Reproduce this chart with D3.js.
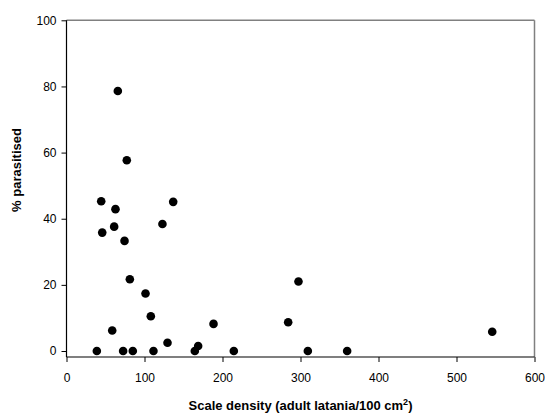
<!DOCTYPE html>
<html>
<head>
<meta charset="utf-8">
<script src="https://cdn.jsdelivr.net/npm/d3@7"></script>
<style>
body{margin:0;background:#fff;}
text{font-family:Arial,"Liberation Sans",sans-serif;}
</style>
</head>
<body>
<svg id="chart" width="545" height="413"></svg>
<script>
const density = [44.5, 62.8, 45.8, 61.1, 74.4, 136.8, 123, 81.2, 101.3, 108.1, 58.6, 38.9, 72.6, 85, 111.5, 129.5, 164.5, 168.8, 188.5, 65.8, 77.3, 214.5, 284.2, 297.4, 309.4, 359.8, 545.8];
const parasitised = [45.3, 42.9, 35.8, 37.6, 33.3, 45.1, 38.4, 21.7, 17.4, 10.5, 6.2, 0, 0, 0, 0, 2.5, 0, 1.5, 8.2, 78.6, 57.7, 0, 8.7, 21.0, 0, 0, 5.8];
const xTicks = [0, 100, 200, 300, 400, 500, 600];
const yTicks = [0, 20, 40, 60, 80, 100];

const svg = d3.select("#chart");
const x = d3.scaleLinear().domain([0, 600]).range([66.5, 534.5]);
const y = d3.scaleLinear().domain([0, 100]).range([351, 20.3]);
const xAxisY = 357;

// frame (top & right, gray)
svg.append("line").attr("x1", 66.5).attr("x2", 534.5).attr("y1", 20.3).attr("y2", 20.3)
  .attr("stroke", "#808080").attr("stroke-width", 1.5);
svg.append("line").attr("x1", 534.5).attr("x2", 534.5).attr("y1", 20.3).attr("y2", xAxisY)
  .attr("stroke", "#808080").attr("stroke-width", 1.5);

// x axis
const gx = svg.append("g").attr("transform", `translate(0,${xAxisY})`)
  .call(d3.axisBottom(x).tickValues(xTicks).tickSize(5).tickSizeOuter(0).tickPadding(11));
// y axis
const gy = svg.append("g").attr("transform", `translate(66.5,0)`)
  .call(d3.axisLeft(y).tickValues(yTicks).tickSize(5).tickSizeOuter(0).tickPadding(5));

[gx, gy].forEach(g => {
  g.selectAll("text").attr("font-size", 12).attr("fill", "#000")
    .attr("font-family", "Arial, 'Liberation Sans', sans-serif");
  g.selectAll("line").attr("stroke", "#000");
  g.select(".domain").remove();
});
// axis lines
svg.append("line").attr("x1", 66.5).attr("x2", 66.5).attr("y1", 20.3).attr("y2", xAxisY)
  .attr("stroke", "#000").attr("stroke-width", 1.2);
svg.append("line").attr("x1", 66.5).attr("x2", 534.5).attr("y1", xAxisY).attr("y2", xAxisY)
  .attr("stroke", "#000").attr("stroke-width", 1.2);

// points
svg.append("g").selectAll("circle")
  .data(density.map((d, i) => [d, parasitised[i]]))
  .join("circle")
  .attr("cx", d => x(d[0])).attr("cy", d => y(d[1]))
  .attr("r", 4.3).attr("fill", "#000");

// titles
const xt = svg.append("text").attr("x", 300.5).attr("y", 410).attr("text-anchor", "middle")
  .attr("font-size", 13).attr("font-weight", "bold");
xt.append("tspan").text("Scale density (adult latania/100 cm");
xt.append("tspan").attr("font-size", 9).attr("dy", -5).text("2");
xt.append("tspan").attr("dy", 5).text(")");

svg.append("text").attr("transform", "translate(21,170) rotate(-90)")
  .attr("text-anchor", "middle").attr("font-size", 13).attr("font-weight", "bold")
  .text("% parasitised");
</script>
</body>
</html>
